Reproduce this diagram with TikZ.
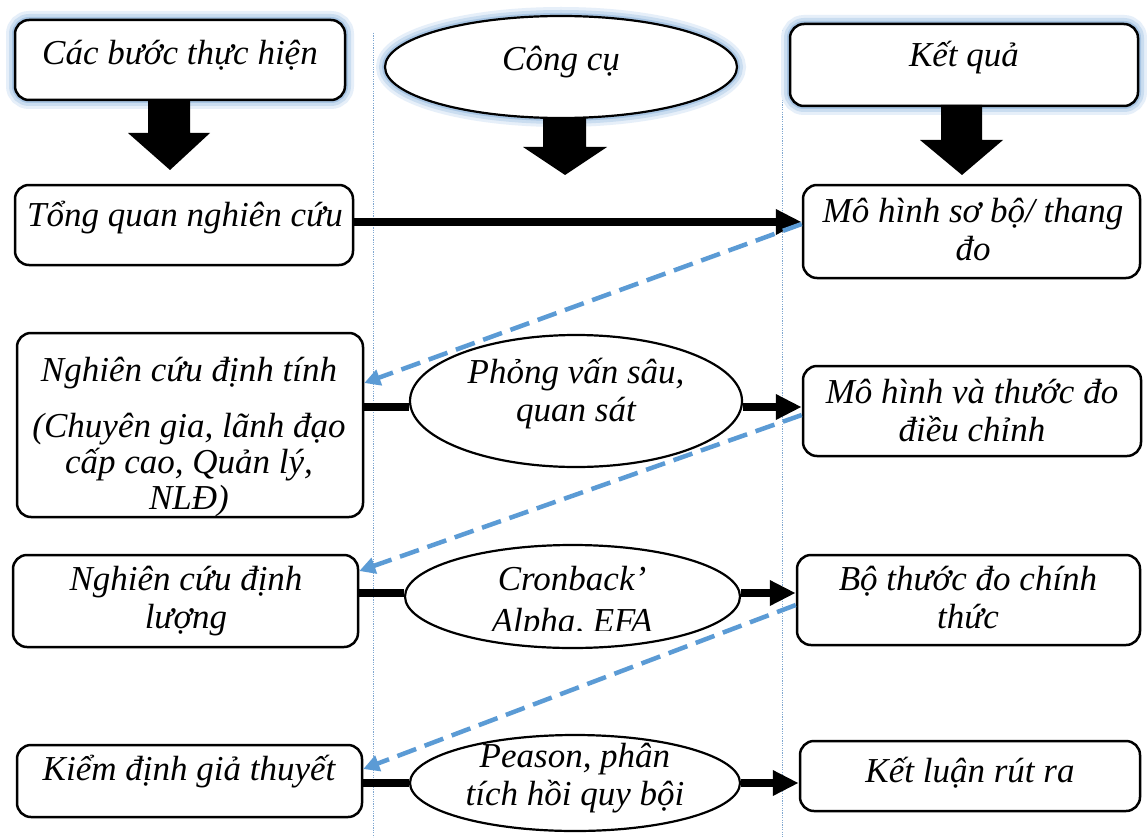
\documentclass[tikz,border=0pt]{standalone}
\usepackage{fontspec}
\setmainfont{Liberation Serif}
\usetikzlibrary{arrows.meta,shapes.geometric}
\definecolor{dashblue}{HTML}{5B9BD5}
\definecolor{glowa}{HTML}{E6EFF9}
\definecolor{glowb}{HTML}{CADDF0}
\definecolor{glowc}{HTML}{A9C6E4}
\definecolor{dotblue}{HTML}{7FA7D0}
\begin{document}
\begin{tikzpicture}[x=1pt,y=-1pt,
  box/.style={draw=black, line width=2.5pt, rounded corners=14pt, fill=white, inner sep=0pt},
  ell/.style={draw=black, ellipse, line width=2.2pt, fill=white, inner sep=0pt},
  glow/.style={preaction={draw=glowa, line width=18pt},
               preaction={draw=glowb, line width=12pt},
               preaction={draw=glowc, line width=6pt}},
  txt/.style={font=\fontsize{35pt}{38pt}\selectfont\itshape, align=center, inner sep=0pt},
  conn/.style={line width=8pt, black},
  arr/.style={conn, -{Triangle[length=26pt,width=24pt]}},
  back/.style={dashblue, line width=4.5pt, dash pattern=on 20pt off 9pt,
               -{Triangle[length=16pt,width=16pt]}},
  vdot/.style={dotblue, line width=0.9pt, dash pattern=on 1.2pt off 1.2pt},
  bigarr/.style={fill=black}]
\useasboundingbox (0,0) rectangle (1147,837);
\fill[white] (0,0) rectangle (1147,837);

% dotted column separators
\coordinate (dA1) at (373,33);
\coordinate (dA2) at (373,837);
\coordinate (dB1) at (782,30);
\coordinate (dB2) at (782,837);
\draw[vdot] (dA1) -- (dA2);
\draw[vdot] (dB1) -- (dB2);

% headers
\node[box, glow, minimum width=330pt, minimum height=80pt] (H1) at (180,60) {};
\node[ell, glow, minimum width=352pt, minimum height=102pt] (H2) at (561,67) {};
\node[box, glow, minimum width=348pt, minimum height=82pt] (H3) at (964,65) {};
\node[txt] (tH1) at (180,55) {Các bước thực hiện};
\node[txt] (tH2) at (561,62) {Công cụ};
\node[txt] (tH3) at (964,58) {Kết quả};

% big down arrows
\fill[bigarr] (148,100) -- (190,100) -- (190,133) -- (210,133) -- (170,170) -- (128,133) -- (148,133) -- cycle;
\fill[bigarr] (543,118) -- (586,118) -- (586,147) -- (607,147) -- (565,175) -- (523,147) -- (543,147) -- cycle;
\fill[bigarr] (941,105) -- (982,105) -- (982,140) -- (1003,140) -- (962,175) -- (920,140) -- (941,140) -- cycle;

% row 1
\node[box, minimum width=338pt, minimum height=80pt] (L1) at (184,225) {};
\node[box, minimum width=337pt, minimum height=93pt] (R1) at (971.5,231.5) {};
\node[txt] (tL1) at (185,218) {Tổng quan nghiên cứu};
\node[txt] (tR1) at (973,230) {Mô hình sơ bộ/ thang\\đo};

% row 2
\node[box, minimum width=346pt, minimum height=184pt] (L2) at (190,425) {};
\node[ell, minimum width=332pt, minimum height=132pt] (E2) at (576,401) {};
\node[box, minimum width=338pt, minimum height=90pt] (R2) at (972,411) {};
\node[txt] (tL2a) at (189,373) {Nghiên cứu định tính};
\node[txt, font=\fontsize{35pt}{36pt}\selectfont\itshape] (tL2b) at (189,465) {(Chuyên gia, lãnh đạo\\cấp cao, Quản lý,\\NLĐ)};
\node[txt] (tE2) at (576,394) {Phỏng vấn sâu,\\quan sát};
\node[txt] (tR2) at (972,411) {Mô hình và thước đo\\điều chỉnh};

% row 3
\node[box, minimum width=345pt, minimum height=92pt] (L3) at (185.5,601) {};
\node[ell, minimum width=335pt, minimum height=103pt] (E3) at (572.5,596.5) {};
\node[box, minimum width=343pt, minimum height=90pt] (R3) at (968.5,600) {};
\node[txt] (tL3) at (186,601) {Nghiên cứu định\\lượng};
\begin{scope}
  \clip (400,540) rectangle (750,630);
  \node[txt, font=\fontsize{35pt}{42pt}\selectfont\itshape] (tE3) at (572,603) {Cronback’\\Alpha, EFA};
\end{scope}
\node[txt] (tR3) at (968,598) {Bộ thước đo chính\\thức};

% row 4
\node[box, minimum width=345pt, minimum height=72pt] (L4) at (189.5,781) {};
\node[ell, minimum width=330pt, minimum height=96pt] (E4) at (575,783) {};
\node[box, minimum width=340pt, minimum height=70pt] (R4) at (970,776) {};
\node[txt] (tL4) at (189,772) {Kiểm định giả thuyết};
\node[txt] (tE4) at (575,778) {Peason, phân\\tích hồi quy bội};
\node[txt] (tR4) at (970,773) {Kết luận rút ra};

% black connectors
\draw[arr] (L1.east |- 0,222) -- (R1.west |- 0,222);
\draw[conn] (L2.east |- 0,407) -- (E2.west |- 0,407);
\draw[arr] (E2.east |- 0,407) -- (R2.west |- 0,407);
\draw[conn] (L3.east |- 0,593) -- (E3.west |- 0,593);
\draw[arr] (E3.east |- 0,593) -- (R3.west |- 0,593);
\draw[conn] (L4.east |- 0,783) -- (E4.west |- 0,783);
\draw[arr] (E4.east |- 0,783) -- (R4.west |- 0,783);

% dashed feedback arrows
\draw[back] (R1.west |- 0,224) -- (L2.east |- 0,383);
\draw[back] (R2.west |- 0,415) -- (L3.east |- 0,571);
\draw[back] (R3.west |- 0,605) -- (L4.east |- 0,769);
\end{tikzpicture}
\end{document}
